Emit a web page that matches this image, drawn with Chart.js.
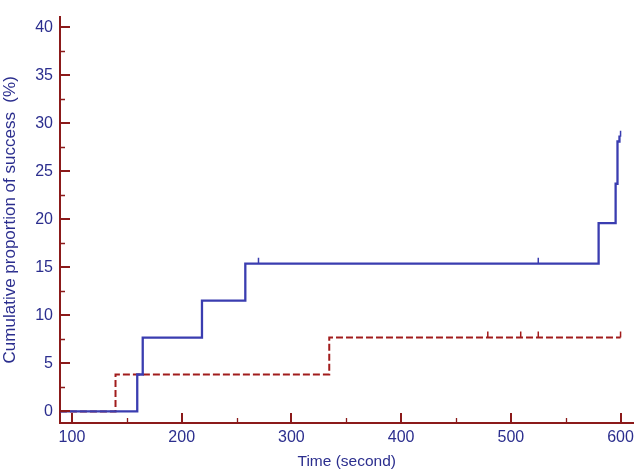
<!DOCTYPE html>
<html>
<head>
<meta charset="utf-8">
<script src="https://cdn.jsdelivr.net/npm/chart.js@4.4.1/dist/chart.umd.min.js"></script>
<style>
  html, body { margin: 0; padding: 0; background: #ffffff; }
  #wrap { width: 639px; height: 473px; }
</style>
</head>
<body>
<div id="wrap"><canvas id="km_chart" width="639" height="473"></canvas></div>
<script>
// step curves (time in seconds, cumulative %)
const blueTimes  = [89, 159.5, 164.5, 218.5, 258, 580, 595.5, 597.2, 599, 600];
const blueValues = [0, 3.85, 7.69, 11.54, 15.38, 19.6, 23.7, 28.1, 28.6, 28.6];
const redTimes   = [89, 139.7, 334.5, 600];
const redValues  = [0, 3.85, 7.69, 7.69];

// censored observations (small tick marks on the curves)
const blueCensorTimes  = [270, 525, 600];
const blueCensorValues = [15.38, 15.38, 28.6];
const redCensorTimes   = [479, 509, 525, 600];
const redCensorValues  = [7.69, 7.69, 7.69, 7.69];

// axis ticks
const xTicks = [100, 200, 300, 400, 500, 600];
const xMinorTicks = [150, 250, 350, 450, 550];
const yTicks = [0, 5, 10, 15, 20, 25, 30, 35, 40];
const yMinorTicks = [2.5, 7.5, 12.5, 17.5, 22.5, 27.5, 32.5, 37.5];

const axisColor = '#8b1a1a';
const textColor = '#2b2e8e';
const blueLine = '#3a3db0';
const redLine = '#a11c1c';
const fontFamily = '"Liberation Sans", Arial, sans-serif';

const toPoints = (xs, ys) => xs.map((x, i) => ({ x: x, y: ys[i] }));

//plugin: inward ticks on both axes + censor marks
const axisTicksPlugin = {
    id: 'axisTicks',
    afterDatasetsDraw(chart) {
        const ctx = chart.ctx;
        const xs = chart.scales.x;
        const ys = chart.scales.y;
        const area = chart.chartArea;
        ctx.save();
        ctx.strokeStyle = axisColor;
        ctx.lineWidth = 2;
        ctx.beginPath();
        xTicks.forEach(v => {
            const px = Math.round(xs.getPixelForValue(v));
            ctx.moveTo(px, area.bottom);
            ctx.lineTo(px, area.bottom - 10);
        });
        yTicks.forEach(v => {
            const py = Math.round(ys.getPixelForValue(v));
            ctx.moveTo(area.left, py);
            ctx.lineTo(area.left + 10, py);
        });
        ctx.stroke();
        ctx.lineWidth = 1.3;
        ctx.beginPath();
        xMinorTicks.forEach(v => {
            const px = Math.round(xs.getPixelForValue(v)) + 0.5;
            ctx.moveTo(px, area.bottom);
            ctx.lineTo(px, area.bottom - 5);
        });
        yMinorTicks.forEach(v => {
            const py = Math.round(ys.getPixelForValue(v)) + 0.5;
            ctx.moveTo(area.left, py);
            ctx.lineTo(area.left + 5, py);
        });
        ctx.stroke();

        // censor marks
        const drawCensor = (times, vals, color) => {
            ctx.strokeStyle = color;
            ctx.lineWidth = 1.5;
            ctx.beginPath();
            times.forEach((t, i) => {
                const px = xs.getPixelForValue(t);
                const py = ys.getPixelForValue(vals[i]);
                ctx.moveTo(px, py);
                ctx.lineTo(px, py - 6);
            });
            ctx.stroke();
        };
        drawCensor(blueCensorTimes, blueCensorValues, blueLine);
        drawCensor(redCensorTimes, redCensorValues, redLine);
        ctx.restore();
    }
};

const ctx = document.getElementById('km_chart').getContext('2d');
new Chart(ctx, {
    type: 'line',
    data: {
        datasets: [
            {
                label: 'blue',
                data: toPoints(blueTimes, blueValues),
                borderColor: blueLine,
                borderWidth: 2.3,
                stepped: 'before',
                pointRadius: 0,
                fill: false,
                order: 0
            },
            {
                label: 'red',
                data: toPoints(redTimes, redValues),
                borderColor: redLine,
                borderWidth: 2,
                borderDash: [7, 3],
                stepped: 'before',
                pointRadius: 0,
                fill: false,
                order: 1
            }
        ]
    },
    options: {
        responsive: false,
        animation: false,
        layout: { padding: { top: 4, right: 4, left: 0, bottom: 0 } },
        plugins: {
            legend: { display: false },
            tooltip: { enabled: false }
        },
        scales: {
            x: {
                type: 'linear',
                min: 89.1,
                max: 611.8,
                afterBuildTicks: scale => { scale.ticks = xTicks.map(v => ({ value: v })); },
                afterFit: scale => { scale.height = 50; },
                grid: { display: false, drawTicks: false },
                border: { display: true, color: axisColor, width: 2 },
                ticks: {
                    color: textColor,
                    padding: 5,
                    maxRotation: 0,
                    font: { family: fontFamily, size: 16 }
                },
                title: {
                    display: true,
                    text: 'Time (second)',
                    color: textColor,
                    padding: { top: 0, bottom: 2 },
                    font: { family: fontFamily, size: 15.5 }
                }
            },
            y: {
                type: 'linear',
                min: -1.2,
                max: 41.1,
                afterBuildTicks: scale => { scale.ticks = yTicks.map(v => ({ value: v })); },
                afterFit: scale => { scale.width = 60; },
                grid: { display: false, drawTicks: false },
                border: { display: true, color: axisColor, width: 2 },
                ticks: {
                    color: textColor,
                    padding: 7,
                    font: { family: fontFamily, size: 16 }
                },
                title: {
                    display: true,
                    text: 'Cumulative proportion of success  (%)',
                    color: textColor,
                    padding: { top: 0, bottom: 0 },
                    font: { family: fontFamily, size: 17 }
                }
            }
        }
    },
    plugins: [axisTicksPlugin]
});
</script>
</body>
</html>
